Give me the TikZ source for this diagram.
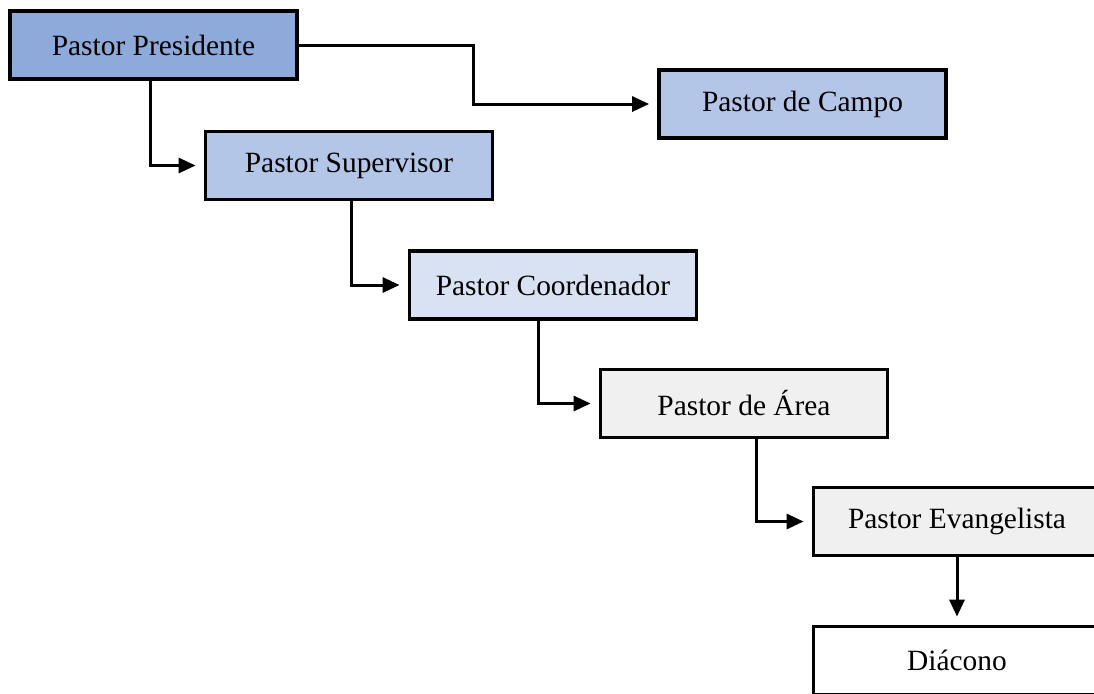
\documentclass[tikz,border=0pt]{standalone}
\usepackage{fontspec}
\setmainfont{Liberation Serif}
\usetikzlibrary{arrows.meta}
\definecolor{azulA}{HTML}{8EAADB}
\definecolor{azulB}{HTML}{B4C6E7}
\definecolor{azulC}{HTML}{D9E2F3}
\definecolor{cinza}{HTML}{F0F0F0}
\tikzset{
  caixa/.style={draw,line width=1.9pt,minimum width=143.5pt,minimum height=34pt,inner sep=0pt,font=\fontsize{14.7}{17}\selectfont},
  seta/.style={line width=1.5pt,-{Triangle[length=8.5pt,width=7.5pt]},shorten >=4pt}
}
\begin{document}
\begin{tikzpicture}[x=0.5pt,y=-0.5pt]
\useasboundingbox (0,0) rectangle (1094,693);
%caixas
\node[caixa,fill=azulA] (pres) at (153.5,45) {Pastor Presidente};
\node[caixa,fill=azulB] (campo) at (802.5,104) {Pastor de Campo};
\node[caixa,fill=azulB] (sup) at (349,165.5) {Pastor Supervisor};
\node[caixa,fill=azulC] (coord) at (553,285) {Pastor Coordenador};
\node[caixa,fill=cinza] (area) at (744,403.5) {Pastor de Área};
\node[caixa,fill=cinza] (evang) at (957,521.5) {Pastor Evangelista};
\node[caixa,fill=white] (diac) at (957,660.5) {Diácono};
%setas
\coordinate (dobra) at (473,75);
\draw[seta] (pres.east) -| (dobra) |- (campo.west);
\draw[seta] ([xshift=-1.75pt]pres.south) |- (sup.west);
\draw[seta] ([xshift=1pt]sup.south) |- (coord.west);
\draw[seta] ([xshift=-7.5pt]coord.south) |- (area.west);
\draw[seta] ([xshift=6pt]area.south) |- (evang.west);
\draw[seta] (evang.south) -- (diac.north);
\end{tikzpicture}
\end{document}
